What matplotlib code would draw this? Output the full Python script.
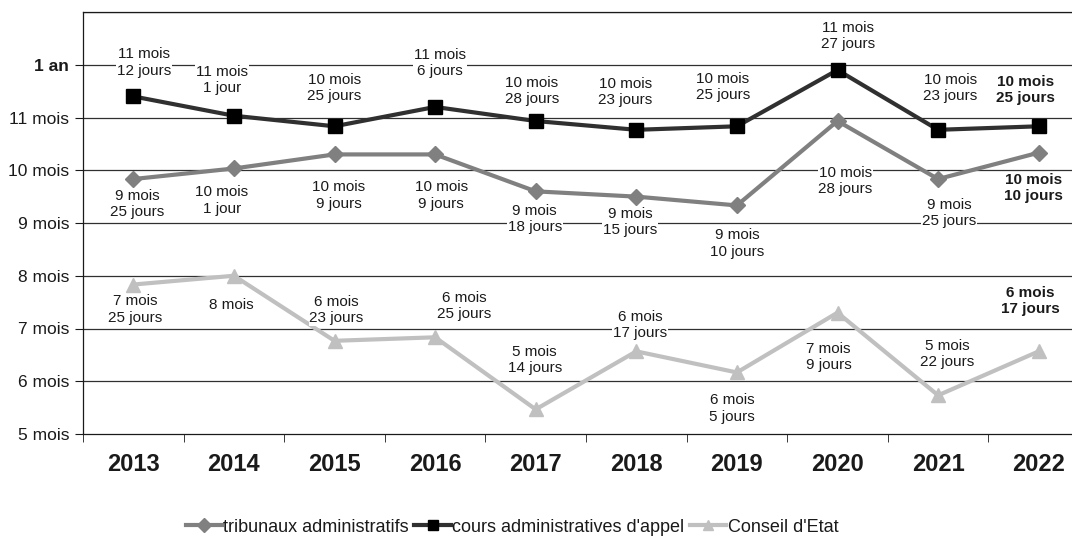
import numpy as np
import matplotlib
matplotlib.use("Agg")
from matplotlib import pyplot as plt
from matplotlib.ticker import FixedLocator

plt.rcParams['font.family'] = ['Liberation Sans', 'DejaVu Sans']

# Data (months, days converted with 30 days / month)
years = ['2013', '2014', '2015', '2016', '2017', '2018', '2019', '2020', '2021', '2022']
ta_months = [9, 10, 10, 10, 9, 9, 9, 10, 9, 10]
ta_days = [25, 1, 9, 9, 18, 15, 10, 28, 25, 10]
caa_months = [11, 11, 10, 11, 10, 10, 10, 11, 10, 10]
caa_days = [12, 1, 25, 6, 28, 23, 25, 27, 23, 25]
ce_months = [7, 8, 6, 6, 5, 6, 6, 7, 5, 6]
ce_days = [25, 0, 23, 25, 14, 17, 5, 9, 22, 17]
series_names = ["tribunaux administratifs", "cours administratives d'appel", "Conseil d'Etat"]
ytick_values = [5, 6, 7, 8, 9, 10, 11, 12]
ytick_labels = ['5 mois', '6 mois', '7 mois', '8 mois', '9 mois', '10 mois', '11 mois', '1 an']

# label offsets in pixels (dx, dy up)
ta_off = [(4, -25), (-12, -32), (4, -41), (6, -41), (-1, -28), (-6, -25), (0, -38), (8, -60), (11, -34), (-5, -35)]
caa_off = [(11, 34), (-12, 36), (0, 38), (5, 44), (-4, 30), (-11, 38), (-14, 39), (11, 34), (12, 42), (-13, 36)]
ce_off = [(2, -25), (-3, -29), (2, 31), (29, 31), (-1, 49), (4, 26), (-5, -36), (-9, -44), (9, 41), (-8, 50)]


def to_value(m, d):
    return np.array(m) + np.array(d) / 30.0


def label_text(m, d):
    if d == 0:
        return f"{m} mois"
    j = "jour" if d == 1 else "jours"
    return f"{m} mois\n{d} {j}"


fig = plt.figure(figsize=(10.72, 5.36), dpi=100)
ax = fig.add_axes([83 / 1072, 102 / 536, 1006 / 1072, 422 / 536])
x = np.arange(len(years))

specs = [
    (ta_months, ta_days, ta_off, '#808080', 'D', 8, series_names[0]),
    (caa_months, caa_days, caa_off, '#303030', 's', 10, series_names[1]),
    (ce_months, ce_days, ce_off, '#c0c0c0', '^', 10, series_names[2]),
]

for m, d, off, col, mk, ms, name in specs:
    vals = to_value(m, d)
    mfc = 'black' if mk == 's' else col
    ax.plot(x, vals, color=col, lw=3, marker=mk, markersize=ms,
            markerfacecolor=mfc, markeredgecolor=mfc, label=name, zorder=3)
    for i in range(len(x)):
        last = (i == len(x) - 1)
        ax.annotate(label_text(m[i], d[i]), (x[i], vals[i]), xytext=off[i],
                    textcoords='offset pixels', ha='center', va='center',
                    fontsize=11, color='#1a1a1a', linespacing=1.2,
                    fontweight='bold' if last else 'normal',
                    bbox=dict(facecolor='white', edgecolor='none', pad=0.5),
                    zorder=4)

ax.set_xlim(-0.5, len(years) - 0.5)
ax.set_ylim(5, 13)
ax.set_yticks(ytick_values)
ax.set_yticklabels(ytick_labels, fontsize=12.5, color='#1a1a1a')
ax.get_yticklabels()[-1].set_fontweight('bold')
ax.set_xticks(x)
ax.set_xticklabels(years, fontsize=17, fontweight='bold', color='#1a1a1a')
ax.xaxis.set_minor_locator(FixedLocator(np.arange(-0.5, len(years), 1.0)))
ax.tick_params(axis='x', which='major', length=0, pad=14)
ax.tick_params(axis='x', which='minor', length=6, direction='out', color='#1a1a1a')
ax.tick_params(axis='y', length=6, direction='out', color='#1a1a1a', pad=4)

for yv in ytick_values[1:] + [13]:
    ax.axhline(yv, color='#303030', lw=0.9, zorder=1)

for s in ['right']:
    ax.spines[s].set_visible(False)
for s in ['left', 'bottom', 'top']:
    ax.spines[s].set_color('#1a1a1a')
    ax.spines[s].set_linewidth(0.9)

leg = fig.legend(loc='center', bbox_to_anchor=(512 / 1072, 9 / 536), ncol=3,
                 frameon=False, handlelength=2.0, handletextpad=0.1, columnspacing=0.3,
                 prop={'size': 13})
for h in leg.legend_handles:
    h.set_markersize(7)
for t in leg.get_texts():
    t.set_color('#1a1a1a')

fig.savefig('out.png', dpi=100)
